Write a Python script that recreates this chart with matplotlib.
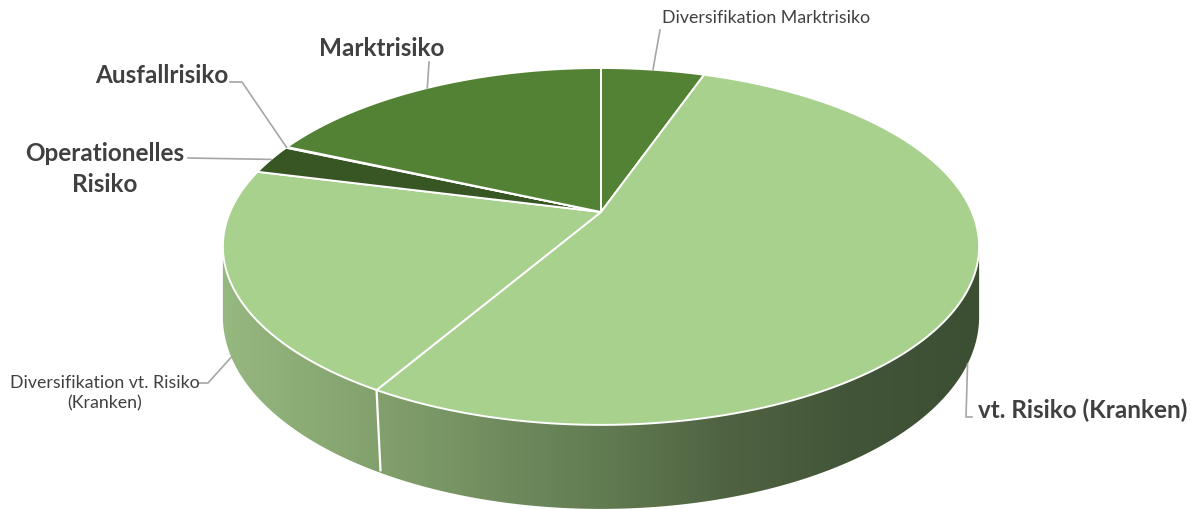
import numpy as np
import matplotlib
matplotlib.use("Agg")
import matplotlib.pyplot as plt
from matplotlib.patches import Polygon
from matplotlib.colors import LinearSegmentedColormap

# ---------------- data ----------------
categories = ["Diversifikation Marktrisiko", "vt. Risiko (Kranken)",
              "Diversifikation vt. Risiko\n(Kranken)", "Operationelles\nRisiko",
              "Ausfallrisiko", "Marktrisiko"]
values = [5.33, 53.08, 20.53, 2.67, 0.08, 18.31]
colors = ["#548235", "#A9D18E", "#A9D18E", "#375623", "#C5E0B4", "#548235"]
bold = [False, True, False, True, True, True]

# ---------------- geometry (pixel space) ----------------
W, Hpx = 1196, 509
cx, cy = 601.0, 212.0
k = 0.193           # perspective factor
Sx, Sy = 371.0, 171.8
depth = 67.8
TXT = "#404040"
LEAD = "#a6a6a6"
FONT = "Lato"


def proj(theta_deg, d=0.0, r=1.0):
    t = np.radians(theta_deg)
    u = r * np.sin(t)
    v = -r * np.cos(t)
    w = 1 - k * v
    return cx + Sx * u / w, cy + (Sy * v + depth * d) / w


fig = plt.figure(figsize=(W / 100, Hpx / 100), dpi=100)
ax = fig.add_axes([0, 0, 1, 1])
ax.set_xlim(0, W)
ax.set_ylim(Hpx, 0)
ax.axis("off")

total = float(sum(values))
angles = np.concatenate([[0.0], np.cumsum(values) / total * 360.0])

# ---------------- side wall ----------------
t1 = np.degrees(np.arccos(-k))
t2 = 360.0 - t1
ts = np.linspace(t1, t2, 300)
top = np.array([proj(t, 0) for t in ts])
bot = np.array([proj(t, 1) for t in ts[::-1]])
side_poly = Polygon(np.vstack([top, bot]), closed=True, facecolor="none",
                    edgecolor="none")
ax.add_patch(side_poly)
stops = [(222, (150, 185, 128)), (380, (130, 160, 108)), (500, (112, 140, 95)),
         (600, (98, 124, 82)), (720, (80, 100, 67)), (850, (67, 85, 56)),
         (980, (61, 79, 51))]
x0, x1 = 218, 984
cmap = LinearSegmentedColormap.from_list(
    "side", [((p - x0) / (x1 - x0), tuple(c / 255 for c in col)) for p, col in
             [(x0, stops[0][1])] + stops[1:-1] + [(x1, stops[-1][1])]])
grad = np.linspace(0, 1, 600)[None, :]
im = ax.imshow(grad, cmap=cmap, extent=[x0, x1, 520, 150], aspect="auto",
               zorder=1, interpolation="bilinear")
im.set_clip_path(side_poly)

# white boundaries running down the visible side
for a in angles[1:-1]:
    if t1 < a < t2:
        xa, ya = proj(a, 0)
        xb, yb = proj(a, 1)
        ax.plot([xa, xb + 4], [ya, yb], color="white", lw=1.6, zorder=2,
                solid_capstyle="butt")

# ---------------- top face ----------------
for i, val in enumerate(values):
    a0, a1 = angles[i], angles[i + 1]
    n = max(3, int((a1 - a0) * 2))
    arc = [proj(t, 0) for t in np.linspace(a0, a1, n)]
    pts = [(cx, cy)] + arc
    ax.add_patch(Polygon(pts, closed=True, facecolor=colors[i],
                         edgecolor="white", lw=1.4, joinstyle="round",
                         zorder=3))

# ---------------- labels ----------------
mids = (angles[:-1] + angles[1:]) / 2.0

def anchor(i):
    m = mids[i]
    if t1 < m < t2:
        return proj(m, 1.0)
    return proj(m, 0)

# (text x, text y, ha, leader path after anchor, fontsize, linespacing)
layout = [
    (662, 18, "left", [(660, 30)], 12.8, 1.3),
    (978, 410, "left", [(966, 417), (972, 417)], 17.5, 1.3),
    (105, 393, "center", [(208, 383), (198, 383)], 12.8, 1.3),
    (105, 169, "center", [(188, 158)], 17.5, 1.4),
    (162, 75, "center", [(242, 82), (230, 82)], 17.5, 1.3),
    (382, 48, "center", [(429, 62)], 17.5, 1.3),
]
for i, (tx, ty, ha, path, fs, ls) in enumerate(layout):
    ax0, ay0 = anchor(i)
    xs = [ax0] + [p[0] for p in path]
    ys = [ay0] + [p[1] for p in path]
    ax.plot(xs, ys, color=LEAD, lw=1.2, zorder=4)
    ax.text(tx, ty, categories[i], ha=ha, va="center", color=TXT,
            fontsize=fs, fontfamily=FONT,
            fontweight="bold" if bold[i] else "normal",
            linespacing=ls, zorder=5)

fig.savefig("out.png", dpi=100, facecolor="white")
